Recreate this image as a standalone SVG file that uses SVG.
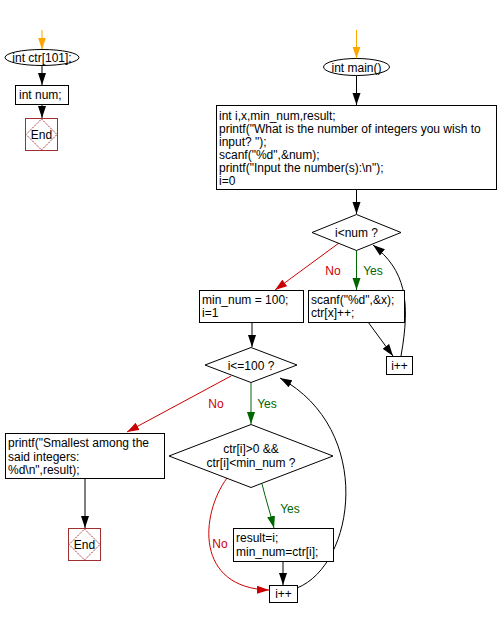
<svg xmlns="http://www.w3.org/2000/svg" width="498" height="617" viewBox="0 0 498 617">
<defs>
<style>
text{font-family:"Liberation Sans",Arial,sans-serif;font-size:12px;fill:#000}
.c{text-anchor:middle}
.box{fill:#fff;stroke:#000;stroke-width:1}
.end{fill:#fff;stroke:#a03030;stroke-width:1}
.endd{fill:none;stroke:#a03030;stroke-width:1;stroke-dasharray:1.5 1}
.k{fill:none;stroke:#000;stroke-width:1}
.o{fill:none;stroke:#ffa500;stroke-width:1}
.r{fill:none;stroke:#cc0000;stroke-width:1}
.g{fill:none;stroke:#006600;stroke-width:1}
.no{fill:#cc0000}
.yes{fill:#006600}
</style>
<marker id="ak" markerUnits="userSpaceOnUse" markerWidth="13" markerHeight="9" refX="12" refY="4.5" orient="auto"><path d="M0,0.5 L12,4.5 L0,8.5 z" fill="#000"/></marker>
<marker id="ao" markerUnits="userSpaceOnUse" markerWidth="13" markerHeight="9" refX="12" refY="4.5" orient="auto"><path d="M0,0.5 L12,4.5 L0,8.5 z" fill="#ffa500"/></marker>
<marker id="ar" markerUnits="userSpaceOnUse" markerWidth="13" markerHeight="9" refX="12" refY="4.5" orient="auto"><path d="M0,0.5 L12,4.5 L0,8.5 z" fill="#cc0000"/></marker>
<marker id="ag" markerUnits="userSpaceOnUse" markerWidth="13" markerHeight="9" refX="12" refY="4.5" orient="auto"><path d="M0,0.5 L12,4.5 L0,8.5 z" fill="#006600"/></marker>
</defs>
<rect width="498" height="617" fill="#fff"/>

<g id="connectors">
<path class="o" d="M42,30 L42,49.5" marker-end="url(#ao)"/>
<path class="k" d="M42,65.5 L42,85" marker-end="url(#ak)"/>
<path class="k" d="M42,104 L42,118" marker-end="url(#ak)"/>
<path class="o" d="M356.5,30 L356.5,58.5" marker-end="url(#ao)"/>
<path class="k" d="M356.5,75.5 L356.5,105" marker-end="url(#ak)"/>
<path class="k" d="M356.5,189 L356.5,214" marker-end="url(#ak)"/>
<path class="g" d="M356.5,251 L356.5,290" marker-end="url(#ag)"/>
<path class="r" d="M339,243 L275,290" marker-end="url(#ar)"/>
<path class="k" d="M368,322 L393,356" marker-end="url(#ak)"/>
<path class="k" d="M401,356 C411,300 405,270 373,245" marker-end="url(#ak)"/>
<path class="k" d="M252,322 L252,347" marker-end="url(#ak)"/>
<path class="g" d="M251,383 L251,424" marker-end="url(#ag)"/>
<path class="r" d="M231,376 L127,432" marker-end="url(#ar)"/>
<path class="k" d="M85,478 L85,528" marker-end="url(#ak)"/>
<path class="g" d="M262,484 C266,500 270,512 274,528" marker-end="url(#ag)"/>
<path class="k" d="M283,561 L283,585" marker-end="url(#ak)"/>
<path class="r" d="M227,478 C200,515 195,588 269,590" marker-end="url(#ar)"/>
<path class="k" d="M297,588 C355,565 375,430 280,378" marker-end="url(#ak)"/>
</g>

<g id="labels">
<text class="c no" x="333" y="275">No</text>
<text class="c yes" x="373" y="275">Yes</text>
<text class="c no" x="216" y="408">No</text>
<text class="c yes" x="267" y="408">Yes</text>
<text class="c yes" x="290" y="513">Yes</text>
<text class="c no" x="220" y="548">No</text>
</g>

<g id="ctr">
<ellipse class="box" cx="42" cy="57.5" rx="37" ry="8"/>
<text class="c" x="42" y="62">int ctr[101];</text>
</g>
<g id="intnum">
<rect class="box" x="15.5" y="85.5" width="53" height="19"/>
<text x="19" y="99">int num;</text>
</g>
<g id="end1">
<rect class="end" x="25.5" y="118.5" width="32" height="32"/>
<path class="endd" d="M41.5,119 L57,134.5 L41.5,150 L26,134.5 z"/>
<text class="c" x="41.5" y="139">End</text>
</g>

<g id="main">
<ellipse class="box" cx="356.5" cy="67" rx="33" ry="8.5"/>
<text class="c" x="356.5" y="71.5">int main()</text>
</g>
<g id="decl">
<rect class="box" x="216.5" y="105.5" width="280" height="84"/>
<text x="219" y="119.5">int i,x,min_num,result;</text>
<text x="219" y="132.6">printf("What is the number of integers you wish to</text>
<text x="219" y="145.7">input? ");</text>
<text x="219" y="158.8">scanf("%d",&amp;num);</text>
<text x="219" y="171.9">printf("Input the number(s):\n");</text>
<text x="219" y="185">i=0</text>
</g>
<g id="cond1">
<path class="box" d="M356.5,214.5 L401,232.5 L356.5,250.5 L312,232.5 z"/>
<text class="c" x="356.5" y="237">i&lt;num ?</text>
</g>
<g id="scanf">
<rect class="box" x="308.5" y="290.5" width="96" height="32"/>
<text x="311" y="304">scanf("%d",&amp;x);</text>
<text x="311" y="317">ctr[x]++;</text>
</g>
<g id="inc1">
<rect class="box" x="386.5" y="356.5" width="26" height="18"/>
<text class="c" x="399.5" y="369.5">i++</text>
</g>
<g id="minnum">
<rect class="box" x="199.5" y="290.5" width="104" height="32"/>
<text x="202" y="304">min_num = 100;</text>
<text x="202" y="317">i=1</text>
</g>
<g id="cond2">
<path class="box" d="M251,347.5 L297,365 L251,382.5 L205,365 z"/>
<text class="c" x="251" y="369.5">i&lt;=100 ?</text>
</g>
<g id="cond3">
<path class="box" d="M251,424.5 L333,456 L251,487.5 L169,456 z"/>
<text class="c" x="251" y="453">ctr[i]&gt;0 &amp;&amp;</text>
<text class="c" x="251" y="467">ctr[i]&lt;min_num ?</text>
</g>
<g id="printf">
<rect class="box" x="5.5" y="433.5" width="159" height="45"/>
<text x="8" y="447">printf("Smallest among the</text>
<text x="8" y="461">said integers:</text>
<text x="8" y="474">%d\n",result);</text>
</g>
<g id="end2">
<rect class="end" x="68.5" y="528.5" width="32" height="32"/>
<path class="endd" d="M84.5,529 L100,544.5 L84.5,560 L69,544.5 z"/>
<text class="c" x="84.5" y="549">End</text>
</g>
<g id="result">
<rect class="box" x="233.5" y="528.5" width="100" height="33"/>
<text x="236" y="542">result=i;</text>
<text x="236" y="556">min_num=ctr[i];</text>
</g>
<g id="inc2">
<rect class="box" x="269.5" y="585.5" width="28" height="17"/>
<text class="c" x="283.5" y="598">i++</text>
</g>
</svg>
